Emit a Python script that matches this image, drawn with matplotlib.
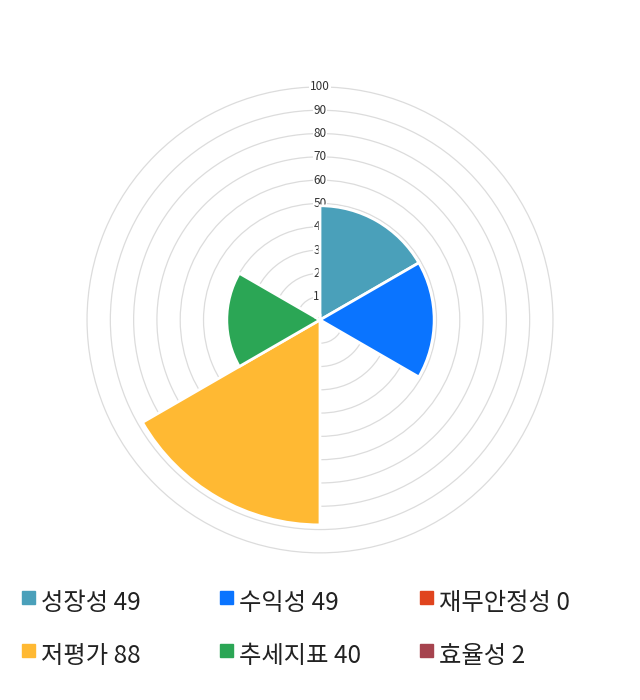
import matplotlib.pyplot as plt
from matplotlib.patches import Rectangle
import numpy as np

plt.rcParams['font.family'] = ['Noto Sans CJK KR', 'DejaVu Sans']

# categories and scores, clockwise from 12 o'clock
labels = ['성장성', '수익성', '재무안정성', '저평가', '추세지표', '효율성']
values = [49, 49, 0, 88, 40, 2]
colors = ['#4aa0ba', '#0a74ff', '#e0441e', '#ffb933', '#2ba655', '#a6434e']
ticks = [10, 20, 30, 40, 50, 60, 70, 80, 90, 100]

fig = plt.figure(figsize=(6.4, 7), dpi=100)
ax = fig.add_axes([0.136, 0.21, 0.728, 0.666], projection='polar')
ax.set_theta_zero_location('N')
ax.set_theta_direction(-1)

n = len(values)
width = 2 * np.pi / n
theta = np.arange(n) * width + width / 2
ax.bar(theta, values, width=width, color=colors, edgecolor='white',
       linewidth=2, zorder=2)

ax.set_ylim(0, 100)
ax.set_yticks(ticks)
ax.set_yticklabels([])
ax.set_xticks([])
ax.set_axisbelow(True)
ax.yaxis.grid(True, color='#dcdcdc', linewidth=0.9)
for gl in ax.yaxis.get_gridlines():
    gl.set_clip_on(False)
ax.spines['polar'].set_visible(False)

# radial tick labels along the top, behind the sectors
for t in ticks:
    ax.text(0, t, str(t), ha='center', va='center', fontsize=8.5,
            color='#333333', zorder=1,
            bbox=dict(facecolor='white', edgecolor='none', pad=0.5))

# legend, 3 columns x 2 rows
col_x = [22, 220, 420]
row_y = [603, 656]
for i, (lab, val, c) in enumerate(zip(labels, values, colors)):
    x = col_x[i % 3]
    y = row_y[i // 3]
    fig.patches.append(Rectangle((x / 640, 1 - (y + 1) / 700), 13 / 640, 13 / 700,
                                 transform=fig.transFigure, color=c))
    fig.text((x + 19) / 640, 1 - y / 700, f'{lab} {val}', fontsize=17.5,
             va='center', ha='left', color='#222222')

fig.savefig('out.png', dpi=100)
